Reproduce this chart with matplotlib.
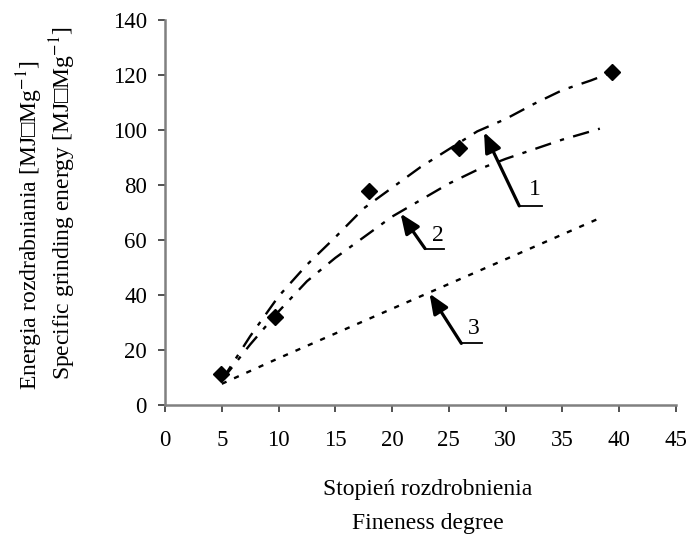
import matplotlib

matplotlib.use("Agg")
import matplotlib.pyplot as plt

plt.rcParams["font.family"] = ["Liberation Serif", "DejaVu Serif"]
plt.rcParams["mathtext.fontset"] = "stix"

# measured specific grinding energy vs fineness degree
meas_x = [4.9, 9.7, 18.0, 25.9, 39.4]
meas_y = [11.2, 32.1, 77.7, 93.4, 121.0]

# curve 1 - fit through the measured points
c1_x = [5, 7.5, 10, 12.5, 15, 17.5, 20, 22.5, 25, 27.5, 30, 32.5, 35, 37.5, 39.4]
c1_y = [9, 25, 39.5, 51, 61, 71.5, 79, 86.5, 93, 99.5, 104, 109.5, 114.5, 118, 121]

# curve 2
c2_x = [5, 7.5, 10, 12.5, 15, 17.5, 20, 22.5, 25, 27.5, 30, 32.5, 35, 37.5, 38.3]
c2_y = [9, 22, 34, 45, 53.5, 61, 68.5, 74.5, 80.5, 85.5, 89.5, 93, 96.5, 99.5, 100.5]

# curve 3
c3_x = [5, 10, 15, 20, 25, 30, 35, 38.6]
c3_y = [7.7, 17, 26, 35, 44, 53, 62, 68.5]

xticks = [0, 5, 10, 15, 20, 25, 30, 35, 40, 45]
yticks = [0, 20, 40, 60, 80, 100, 120, 140]

fig = plt.figure(figsize=(6.89, 5.35), dpi=100)
ax = fig.add_axes([0.2395, 0.243, 0.7415, 0.7196])

ax.plot(c1_x, c1_y, color="black", lw=1.7, dashes=(7, 4, 1.8, 4))
ax.plot(c2_x, c2_y, color="black", lw=1.7, dashes=(7, 4, 1.8, 4))
ax.plot(c3_x, c3_y, color="black", lw=1.7, dashes=(2.2, 3.5))
ax.plot(meas_x, meas_y, "D", color="black", ms=8.5, ls="none")

# numbered arrows with leader lines
arrows = [
    ("1", (28.1, 99.2), (31.2, 72.4), 33.2, (32.6, 78.5)),
    ("2", (20.75, 69.6), (22.9, 56.9), 24.6, (24.0, 61.7)),
    ("3", (23.3, 40.5), (26.1, 22.4), 27.9, (27.2, 27.8)),
]
for lab, tip, tail, x_end, txt in arrows:
    ax.annotate("", xy=tip, xytext=tail,
                arrowprops=dict(arrowstyle="-|>,head_length=0.6,head_width=0.25",
                                color="black", lw=2.3,
                                mutation_scale=20, shrinkA=0, shrinkB=0))
    ax.plot([tail[0], x_end], [tail[1], tail[1]], color="black", lw=1.3)
    ax.text(txt[0], txt[1], lab, fontsize=17, ha="center", va="center")

ax.set_xlim(0, 45)
ax.set_ylim(0, 140)
ax.set_xticks(xticks)
ax.set_yticks(yticks)
ax.tick_params(labelsize=16.5, length=5, width=1.2, color="#333333", pad=13)
ax.tick_params(axis="y", pad=8)
for side in ("top", "right"):
    ax.spines[side].set_visible(False)
for side in ("left", "bottom"):
    ax.spines[side].set_color("#808080")
    ax.spines[side].set_linewidth(1.8)

fig.text(428 / 689, 1 - 490 / 535, "Stopień rozdrobnienia", fontsize=17,
         ha="center", va="center")
fig.text(428 / 689, 1 - 523 / 535, "Fineness degree", fontsize=17,
         ha="center", va="center")
fig.text(30 / 689, 1 - 225 / 535, "Energia rozdrabniania [MJ\u25a1Mg$^{-1}$]",
         fontsize=17, rotation=90, ha="center", va="center")
fig.text(63 / 689, 1 - 203 / 535, "Specific grinding energy [MJ\u25a1Mg$^{-1}$]",
         fontsize=17, rotation=90, ha="center", va="center")

fig.savefig("out.png", dpi=100)
